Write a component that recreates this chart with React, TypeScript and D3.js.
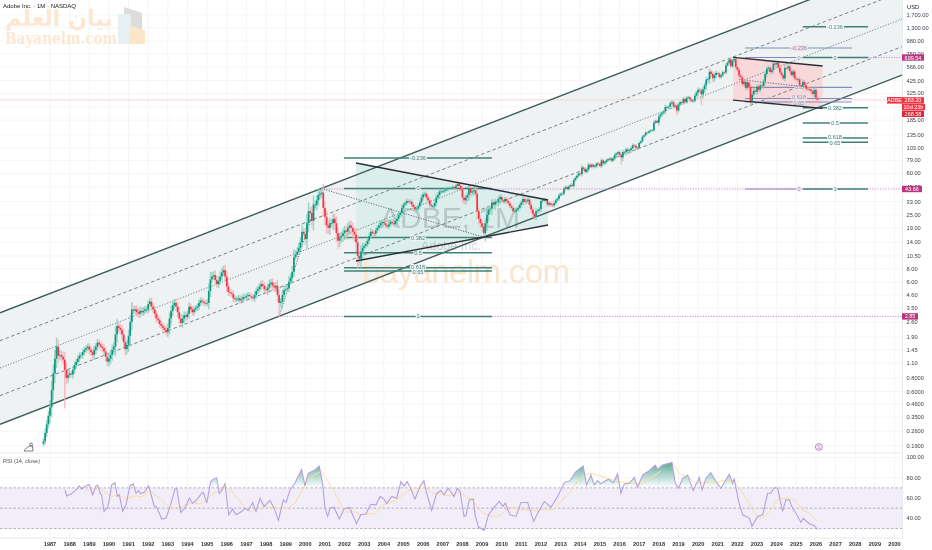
import React from "react";
import * as d3 from "d3";

const W = 932, H = 550;
const PLOT_R = 902;

// monthly closes, one row per calendar year, first row starts Sep 1986
const firstYear = 1986, firstMonth = 8;
const closes1986 = [0.21, 0.25, 0.30, 0.36];
const closes1987 = [0.43, 0.62, 0.88, 1.2, 1.55, 1.28, 1.3, 1.25, 1.18, 0.95, 0.8, 0.85];
const closes1988 = [0.88, 0.86, 0.95, 1.05, 1.12, 1.2, 1.28, 1.3, 1.38, 1.45, 1.5, 1.55];
const closes1989 = [1.45, 1.38, 1.3, 1.45, 1.55, 1.68, 1.62, 1.55, 1.5, 1.4, 1.25, 1.13];
const closes1990 = [1.2, 1.3, 1.45, 1.55, 2.0, 2.4, 2.3, 2.2, 2.0, 1.7, 1.47, 1.6];
const closes1991 = [1.95, 2.6, 3.4, 3.3, 3.4, 3.2, 3.1, 3.3, 3.2, 3.3, 3.4, 3.4];
const closes1992 = [3.8, 4.0, 3.6, 3.4, 3.1, 2.8, 2.7, 2.5, 2.4, 2.3, 2.2, 2.1];
const closes1993 = [2.3, 2.8, 3.3, 3.7, 3.9, 3.6, 3.2, 2.8, 2.55, 2.8, 3.0, 2.9];
const closes1994 = [3.1, 3.6, 3.4, 3.2, 3.4, 3.5, 3.6, 3.9, 4.1, 4.0, 3.9, 3.85];
const closes1995 = [3.9, 5.0, 6.4, 6.8, 7.0, 6.3, 5.8, 6.2, 6.8, 7.4, 7.8, 6.8];
const closes1996 = [5.5, 4.9, 4.8, 4.7, 4.3, 4.2, 4.2, 4.3, 4.1, 4.2, 4.4, 4.4];
const closes1997 = [4.5, 4.6, 4.5, 4.4, 4.3, 4.6, 5.0, 5.2, 5.5, 5.8, 5.6, 5.2];
const closes1998 = [5.1, 5.4, 5.8, 6.0, 5.6, 5.4, 5.6, 4.6, 3.9, 4.0, 4.6, 5.1];
const closes1999 = [5.2, 5.3, 6.1, 6.6, 7.5, 10.2, 10.8, 11.5, 12.5, 14, 17.5, 16.8];
const closes2000 = [15, 21, 27, 26, 22, 31, 31, 34, 38, 39, 40, 29];
const closes2001 = [24, 20, 19, 21, 21, 23, 21, 17, 14.5, 15.5, 16, 17];
const closes2002 = [18, 17.5, 19, 20, 19, 17.5, 16.5, 14, 10.5, 9.9, 11.5, 12.5];
const closes2003 = [13, 13.5, 14.5, 16, 17.5, 17, 16.8, 18, 19, 20, 21, 21.5];
const closes2004 = [21, 20, 19.5, 20.5, 21.5, 21, 20.5, 22, 23, 25, 26, 29];
const closes2005 = [31, 32, 33.5, 33, 33, 31, 29.5, 28, 28.5, 30, 32.5, 36];
const closes2006 = [38.5, 39, 36, 34, 31, 30, 30, 32, 36, 38, 41, 41];
const closes2007 = [41, 42, 43, 44, 44, 44, 45, 44, 46, 48, 46, 43];
const closes2008 = [36, 34, 36, 38, 44, 40, 41, 42, 39, 27, 23, 21];
const closes2009 = [19.5, 17, 21, 25, 28, 28.5, 32.5, 31, 33, 33, 35, 36.5];
const closes2010 = [34, 33, 35, 33.5, 32, 30, 29, 27, 27, 28, 29, 30.8];
const closes2011 = [32.5, 35, 33, 33.5, 34.5, 31, 28, 25.5, 24, 27, 27.5, 28.3];
const closes2012 = [33.5, 34, 34.3, 33.5, 31, 32, 31, 30.5, 32, 34, 35, 37.7];
const closes2013 = [39, 39, 43.5, 45, 43, 45.5, 47, 46, 52, 54.5, 57, 60];
const closes2014 = [59, 68, 66, 62, 65, 72, 69, 72, 69, 70, 74, 72.7];
const closes2015 = [70, 79, 74, 76, 79, 81, 82, 78.5, 82, 88.6, 91, 94];
const closes2016 = [89, 84, 94, 94, 99.5, 96, 98, 102, 108.5, 107.5, 103, 103];
const closes2017 = [114, 118, 130, 134, 142, 141, 146, 149, 149, 175, 182, 175];
const closes2018 = [199, 209, 216, 222, 244, 244, 245, 264, 270, 246, 251, 226];
const closes2019 = [257, 270, 266, 289, 271, 295, 299, 285, 276, 278, 310, 330];
const closes2020 = [351, 345, 318, 354, 386, 435, 439, 513, 490, 447, 478, 500];
const closes2021 = [495, 458, 475, 507, 505, 586, 621, 664, 576, 650, 669, 567];
const closes2022 = [534, 474, 455, 396, 416, 366, 410, 373, 275, 318, 345, 336];
const closes2023 = [375, 350, 385, 378, 418, 489, 546, 559, 510, 532, 611, 597];
const closes2024 = [618, 561, 505, 477, 445, 556, 552, 574, 518, 478, 516, 445];
const closes2025 = [436, 438, 384, 375, 415, 387, 358, 357, 353, 340, 320, 350];
const closes2026 = [293, 283.2];

// typical wick share per year, 1986..2026
const wickUpByYear = [.1, .16, .1, .11, .14, .13, .11, .12, .1, .14, .12, .11, .13, .14, .16, .15, .15, .09, .08, .08, .08, .06, .09, .09, .07, .07, .06, .05, .05, .05, .06, .04, .06, .05, .07, .05, .07, .06, .06, .06, .05];
const wickDownByYear = [.08, .14, .1, .12, .14, .12, .1, .12, .1, .1, .1, .1, .14, .08, .14, .17, .2, .08, .08, .07, .08, .06, .12, .14, .07, .08, .06, .04, .05, .05, .09, .03, .07, .05, .1, .05, .06, .07, .05, .08, .08];
const spikeMonths = [[1987, 9], [1998, 8], [2002, 9], [2009, 1], [2016, 1], [2018, 11], [2020, 2], [2022, 8]];
const spikeLows = [0.42, 2.93, 8.6, 15.7, 72, 205, 255, 258];

const priceTicks = [1700, 1300, 980, 750, 566, 425, 325, 245, 185, 135, 103, 79, 60, 45, 33, 25, 19, 14, 10.5, 8, 6, 4.6, 3.5, 2.6, 1.9, 1.45, 1.1, 0.8, 0.6, 0.46, 0.35, 0.26, 0.19];
const years = d3.range(1987, 2031);

// channel levels: price at the left edge and at the right edge of the pane
const channelT0 = 1984.454, channelT1 = 2030.376;
const channelLeft = [3.16, 1.755, 0.986, 0.55, 0.30];
const channelRight = [5003, 2778, 1561, 871, 478];
const channelDash = ["", "3.5 2.5", "1.2 1.6", "3.5 2.5", ""];

// Fibonacci sets
const fibLeftPrices = [83, 43.66, 15.5, 11.25, 8.2, 7.65, 2.93];
const fibLeftLabels = ["-0.236", "0", "0.382", "0.5", "0.618", "0.65", "1"];
const fibLeftSpan = [2001.97, 2009.5];
const fibTealPrices = [1326, 693, 240, 174, 127, 115.8, 43.2];
const fibTealLabels = ["-0.236", "0", "0.382", "0.5", "0.618", "0.65", "1"];
const fibTealSpan = [2025.33, 2028.65];
const fibPurplePrices = [846, 369, 291.5, 270.6];
const fibPurpleLabels = ["-0.236", "0.5", "0.618", "0.65"];
const fibPurpleSpan = [2022.39, 2027.83];
const fibPurpleShortPrices = [693, 43.2];
const fibPurpleShortLabels = ["0", "0"];
const fibPurpleShortSpan = [2022.39, 2025.28];

// wedges: [time, price]
const wedgeLeftTop = [[2002.58, 74.7], [2012.36, 34.2]];
const wedgeLeftBottom = [[2002.58, 9.44], [2012.36, 20.2]];
const wedgeRightTop = [[2021.78, 695], [2026.34, 579]];
const wedgeRightBottom = [[2021.78, 282], [2026.34, 237]];
const dottedLegs = [
  [[1998.66, 2.93], [2000.8, 43.66]],
  [[2000.8, 43.66], [2009.13, 15.5]],
  [[2022.1, 435], [2025.5, 372]],
];
// source-level dotted rays: [start time, price, end time]
const rayStarts = [2025.33, 2000.8, 1998.66];
const rayPrices = [693, 43.2, 2.93];
const rayEnds = [2030.38, 2030.38, 2030.38];

// RSI vertices
const rsiTimes = [1987.76, 1987.85, 1988.10, 1988.36, 1988.49, 1988.61, 1988.78, 1989.00, 1989.17, 1989.34, 1989.43, 1989.55, 1989.63, 1989.75, 1989.92, 1990.02, 1990.14, 1990.31, 1990.43, 1990.53, 1990.70, 1990.87, 1991.07, 1991.24, 1991.38, 1991.50, 1991.62, 1991.84, 1992.01, 1992.13, 1992.30, 1992.43, 1992.69, 1992.91, 1993.14, 1993.36, 1993.45, 1993.65, 1993.87, 1994.09, 1994.26, 1994.47, 1994.72, 1994.81, 1994.98, 1995.18, 1995.32, 1995.49, 1995.62, 1995.74, 1995.91, 1996.10, 1996.30, 1996.47, 1996.76, 1996.93, 1997.10, 1997.32, 1997.49, 1997.69, 1997.90, 1998.20, 1998.41, 1998.63, 1998.88, 1999.02, 1999.22, 1999.47, 1999.81, 1999.98, 2000.15, 2000.49, 2000.71, 2000.88, 2001.00, 2001.14, 2001.26, 2001.46, 2001.73, 2001.97, 2002.24, 2002.41, 2002.61, 2002.82, 2003.09, 2003.33, 2003.60, 2003.80, 2003.97, 2004.14, 2004.40, 2004.65, 2004.87, 2005.02, 2005.19, 2005.36, 2005.58, 2005.84, 2006.04, 2006.18, 2006.43, 2006.69, 2006.89, 2007.06, 2007.28, 2007.57, 2007.74, 2007.88, 2008.08, 2008.18, 2008.35, 2008.55, 2008.66, 2008.82, 2009.11, 2009.33, 2009.62, 2009.88, 2010.05, 2010.18, 2010.42, 2010.73, 2010.98, 2011.32, 2011.63, 2011.83, 2012.17, 2012.51, 2012.85, 2013.19, 2013.48, 2013.78, 2014.15, 2014.32, 2014.54, 2014.71, 2014.88, 2015.05, 2015.22, 2015.44, 2015.68, 2015.90, 2016.07, 2016.24, 2016.50, 2016.75, 2016.92, 2017.18, 2017.51, 2017.82, 2017.94, 2018.19, 2018.67, 2018.84, 2019.01, 2019.21, 2019.47, 2019.75, 2020.06, 2020.20, 2020.40, 2020.65, 2020.91, 2021.16, 2021.59, 2021.76, 2021.84, 2022.06, 2022.27, 2022.61, 2022.74, 2023.03, 2023.29, 2023.54, 2023.71, 2023.88, 2024.05, 2024.30, 2024.47, 2024.64, 2024.81, 2024.98, 2025.24, 2025.36, 2025.66, 2025.92, 2026.09];
const rsiValues = [68, 62.1, 64.1, 68.7, 71.9, 68.7, 71.3, 73.2, 63.1, 71.9, 72.6, 64.7, 63.1, 46.8, 50, 58.2, 72.9, 75.2, 61.5, 63.1, 46.8, 53.3, 71.9, 73.9, 64.7, 67.3, 64.1, 66.4, 71.9, 64.7, 52.3, 51, 39.3, 40.3, 53.3, 68.7, 69.6, 45.8, 50, 59.8, 54.9, 58.2, 64.7, 65.4, 54.9, 76.2, 78.5, 79.8, 64.7, 67.3, 73.9, 43.5, 49.1, 43.5, 46.8, 50, 47.8, 55.6, 46.8, 59.5, 51.7, 57.6, 50, 38, 58.2, 55.6, 68, 74.5, 88.2, 71.9, 84.3, 87.6, 91.5, 74.5, 50, 41.9, 50, 51, 39.3, 49.1, 51, 43.5, 34.7, 43.5, 44.5, 53.9, 53.3, 61.5, 59.8, 54.5, 61.5, 59.8, 76.2, 71.9, 76.2, 69.6, 58.9, 71.3, 77.1, 64.7, 47.8, 64.7, 67.3, 63.1, 69.6, 61.5, 69.6, 66.4, 41.9, 43, 58, 58.9, 41.9, 31.4, 28.2, 43.5, 51, 56.6, 51.7, 54.9, 43.5, 41.9, 55.6, 55.6, 37, 45.1, 56.6, 51, 61.5, 75.2, 77.1, 86, 91.5, 72.9, 82.7, 72.9, 77.1, 73.9, 76.2, 78.5, 75.2, 83.7, 64.7, 73.9, 74.5, 80.4, 70.6, 82.7, 86.9, 92.5, 88.2, 92.5, 95.1, 74.5, 69.6, 79.4, 82.7, 67.3, 80.4, 68, 79.4, 85, 76.2, 69.6, 83.7, 74.5, 79.4, 56.6, 43.5, 40.3, 32.2, 41.9, 43.5, 64.7, 64.7, 70.3, 69.6, 46.8, 58.2, 58.2, 50, 45.1, 36, 40, 34.7, 32.7, 28.8];

// RSI moving average vertices; the line breaks where the value is null
const rsiMaTimes = [1988.83, 1989.12, 1989.46, 1989.63, 1989.89, 1990.14, 1990.39, 1990.65, 1990.90, 1991.16, 1991.41, 1991.67, 1991.92, 1992.09, 1992.35, 1992.69, 1992.94, 1993.20, 1993.53, 1993.96, 1994.30, 1994.64, 1994.98, 1995.32, 1995.66, 1995.91, 1996.25, 1996.59, 1997.01, 1997.27, 1997.61, 1997.95, 1998.29, 1998.71, 1999.14, 1999.47, 1999.81, 2000.15, 2000.49, 2000.83, 2001.17, 2001.51, 2001.85, 2002.10, 2002.44, 2002.87, 2003.55, 2003.97, 2004.65, 2005.16, 2005.50, 2006.18, 2006.52, 2006.86, 2007.37, 2007.88, 2008.18, 2008.52, 2008.77, 2009.03, 2009.37, 2009.79, 2010.13, 2010.39, 2010.81, 2011.24, 2011.74, 2012.25, 2012.59, 2013.02, 2013.44, 2013.87, 2014.21, 2014.54, 2014.88, 2015.39, 2015.90, 2016.33, 2016.84, 2017.18, 2017.68, 2018.11, 2018.40, 2018.79, 2019.04, 2019.47, 2019.89, 2020.40, 2020.82, 2021.25, 2021.76, 2022.10, 2022.44, 2022.78, 2023.12, 2023.37, 2023.71, 2024.05, 2024.56, 2024.98, 2025.32, 2025.66, 2026.09];
const rsiMaValues = [67.3, 68.7, 70.6, 68, 64.7, 61.5, 63.1, 61.5, 58.9, 61.5, 62.1, 61.1, 64.7, 68, 63.1, 58.2, 53.3, 49.1, 51, 53.3, 55.6, 54, 58.2, 64.7, 68, 70.6, 66.4, 58.2, 48.4, 46.8, 50, 51.7, 50, 50, 50, 54.9, 66.4, 77.8, 83.7, 86, 76.2, 64.7, 51.7, 46.1, 46.8, 43.5, 44.5, 53.3, 58.2, 66.4, 69.6, 69.6, 64.7, 64.1, 62.1, 66.4, 60.8, 58.2, 50, 45.1, 42.9, 40.9, 46.8, 51, 49.7, 48.1, 47.4, 49.1, 47.8, 56.6, 64.7, 76.2, 82.7, 84.3, 82.7, 79.4, 76.2, 75.2, 73.9, 74.5, 81, 86.6, null, 92.5, 84.3, 81, 74.5, 75.5, 75.5, 77.1, 77.1, 69.6, 59.8, 48.4, 40.3, 40.9, 48.4, 58.2, 60.8, 56.6, 48.4, 45.1, 37];

const rsiTicks = [100, 80, 60, 40];
const rsiLevels = [70, 50, 30];

const FONT = "'Liberation Sans', Arial, sans-serif";
const INK = "#131722";
const UP = "#089981", DOWN = "#f23645";
const TEAL = "#3d8278", PURPLE = "#8f7fc4";
const RAY = "#c98bd3", MAG = "#b8397f";
const CHANNEL = "#3e5c5a";

const x = d3.scaleLinear().domain([1987, 2030]).range([50, 894.5]);
const y = d3.scaleLog().domain([0.19, 1700]).range([446, 15]);
const yR = d3.scaleLinear().domain([100, 30]).range([457.4, 528.5]);

type Bar = { t: number; o: number; h: number; l: number; c: number };

const allCloses = [closes1986, closes1987, closes1988, closes1989, closes1990, closes1991, closes1992, closes1993, closes1994, closes1995, closes1996, closes1997, closes1998, closes1999, closes2000, closes2001, closes2002, closes2003, closes2004, closes2005, closes2006, closes2007, closes2008, closes2009, closes2010, closes2011, closes2012, closes2013, closes2014, closes2015, closes2016, closes2017, closes2018, closes2019, closes2020, closes2021, closes2022, closes2023, closes2024, closes2025, closes2026];

function buildBars(): Bar[] {
  const bars: Bar[] = [];
  let prev = closes1986[0] * 0.95;
  allCloses.forEach((row, ri) => {
    const yr = firstYear + ri;
    row.forEach((c, i) => {
      const month = ri === 0 ? firstMonth + i : i;
      const o = prev;
      const ret = Math.abs(c - o) / o;
      const scale = 0.55 + Math.min(ret, 0.3) * 2.5;
      let h = Math.max(o, c) * (1 + wickUpByYear[ri] * scale);
      let l = Math.min(o, c) * (1 - wickDownByYear[ri] * scale);
      spikeMonths.forEach(([sy, sm], si) => {
        if (sy === yr && sm === month) l = spikeLows[si];
      });
      bars.push({ t: yr + month / 12, o, h, l, c });
      prev = c;
    });
  });
  return bars;
}

const bars = buildBars();

const fmtPrice = (v: number) =>
  v < 1 ? d3.format(".4f")(v) : d3.format(",.2f")(v);

const line2 = (pts: number[][]) =>
  d3.line<number[]>().x((d) => x(d[0])).y((d) => y(d[1]))(pts) as string;

const labelShift = (label: string) => (label === "0.618" ? 0.9 : label === "0.65" ? 3 : 2);

function FibSet({ prices, labels, span, color, halo, labelT, width = 1.5, fs = 5.6 }: any) {
  return (
    <g>
      {prices.map((p: number, i: number) => (
        <g key={i}>
          <line x1={x(span[0])} x2={x(span[1])} y1={y(p)} y2={y(p)} stroke={color} strokeWidth={width} />
          <text x={x(labelT)} y={y(p) + labelShift(labels[i])} fontSize={fs} fill={color} textAnchor="middle"
            stroke={halo} strokeWidth={2.5} style={{ paintOrder: "stroke" }}>{labels[i]}</text>
        </g>
      ))}
    </g>
  );
}

function PriceBox({ v, text, fill, h = 6.4, w = 22 }: any) {
  return (
    <g>
      <rect x={PLOT_R} y={v - h / 2} width={w} height={h} fill={fill} />
      <text x={PLOT_R + w / 2} y={v + 2} fontSize={5.5} fill="#fff" textAnchor="middle">{text}</text>
    </g>
  );
}

export default function App() {
  const rsiPts = rsiTimes.map((t, i) => [t, rsiValues[i]]);
  const rsiLine = d3.line<number[]>().x((d) => x(d[0])).y((d) => yR(d[1]))(rsiPts) as string;
  const rsiArea = d3.area<number[]>().x((d) => x(d[0])).y0(yR(70)).y1((d) => yR(d[1]))(rsiPts) as string;
  const maLine = d3.line<number>()
    .defined((d) => d !== null)
    .x((_, i) => x(rsiMaTimes[i]))
    .y((d) => yR(d))(rsiMaValues as number[]) as string;

  const polyOf = (top: number[][], bottom: number[][]) =>
    top.concat([...bottom].reverse()).map((d) => `${x(d[0])},${y(d[1])}`).join(" ");

  const channelPoly = [
    [channelT0, channelLeft[0]], [channelT1, channelRight[0]],
    [channelT1, channelRight[4]], [channelT0, channelLeft[4]],
  ].map((d) => `${x(d[0])},${y(d[1])}`).join(" ");

  const lastPrice = 283.2;
  return (
    <svg width={W} height={H} viewBox={`0 0 ${W} ${H}`} fontFamily={FONT}
      style={{ position: "fixed", left: 0, top: 0, background: "#fff", display: "block" }}>
      <defs>
        <clipPath id="plot"><rect x={0} y={0} width={PLOT_R} height={453} /></clipPath>
        <clipPath id="ob"><rect x={0} y={440} width={PLOT_R} height={yR(70) - 440} /></clipPath>
        <linearGradient id="obFill" gradientUnits="userSpaceOnUse" x1={0} x2={0} y1={yR(100)} y2={yR(70)}>
          <stop offset="0" stopColor="#006a55" stopOpacity={0.75} />
          <stop offset="1" stopColor="#0a8f70" stopOpacity={0} />
        </linearGradient>
        <filter id="soft" filterUnits="userSpaceOnUse" x={0} y={0} width={W} height={H}>
          <feGaussianBlur stdDeviation="0.4" />
        </filter>
      </defs>

      <g filter="url(#soft)">
      {/* grid */}
      <g stroke="#f4f5f6" strokeWidth={1}>
        {years.map((yr) => (
          <line key={yr} x1={x(yr)} x2={x(yr)} y1={0} y2={538} />
        ))}
        {priceTicks.map((p) => (
          <line key={p} x1={0} x2={PLOT_R} y1={y(p)} y2={y(p)} />
        ))}
        {rsiTicks.map((r) => (
          <line key={r} x1={0} x2={PLOT_R} y1={yR(r)} y2={yR(r)} />
        ))}
      </g>

      {/* logo and watermarks */}
      <g>
        <text x={5} y={26} fontSize={23} fontWeight={700} fill="#fce8d2" fontFamily="'DejaVu Sans', sans-serif" textLength={108} lengthAdjust="spacingAndGlyphs">بيان العلم</text>
        <text x={5} y={44} fontSize={16} fontWeight={700} fill="#fce8d2" fontFamily="'DejaVu Serif', serif" textLength={112} lengthAdjust="spacingAndGlyphs">Bayanelm.com</text>
        <polygon points="124,7 142,13 142,36 124,30" fill="#dcdcdc" />
        <rect x={118} y={14} width={13} height={30} fill="#e6f0f2" />
        <polygon points="129,25 140,29 145,30 145,44 129,44" fill="#fbe6c8" />
      </g>
      <text x={3} y={8} fontSize={6} fill={INK}>Adobe Inc. · 1M · NASDAQ</text>

      <g clipPath="url(#plot)">
        {/* channel */}
        <polygon points={channelPoly} fill="#eef2f2" />
        <line x1={0} x2={PLOT_R} y1={y(lastPrice)} y2={y(lastPrice)} stroke="#fbd3d8" strokeWidth={1} />

        {/* wedges */}
        <polygon points={polyOf(wedgeLeftTop, wedgeLeftBottom)} fill="#dceeec" />
        <polygon points={polyOf(wedgeRightTop, wedgeRightBottom)} fill="#f8d8da" />

        {/* watermark texts */}
        <text x={450} y={228} fontSize={30} fill="#2a2e39" fillOpacity={0.2} textAnchor="middle">ADBE, 1M</text>
        <text x={451} y={250} fontSize={12.5} fill="#2a2e39" fillOpacity={0.2} textAnchor="middle">Adobe Inc.</text>
        <text x={466} y={283} fontSize={33} fill="#fae6cf" textAnchor="middle" textLength={208}>bayanelm.com</text>

        {/* channel lines */}
        {channelLeft.map((p, i) => (
          <line key={i} x1={x(channelT0)} x2={x(channelT1)} y1={y(p)} y2={y(channelRight[i])}
            stroke={i === 0 || i === 4 ? CHANNEL : "#66777a"}
            strokeWidth={i === 0 || i === 4 ? 1.4 : 0.9}
            strokeDasharray={channelDash[i]} />
        ))}

        {/* dotted source rays */}
        {rayStarts.map((t, i) => (
          <line key={i} x1={x(t)} x2={x(rayEnds[i])} y1={y(rayPrices[i])} y2={y(rayPrices[i])}
            stroke={RAY} strokeWidth={1} strokeDasharray="1.2 1.4" />
        ))}

        {/* Fibonacci */}
        <FibSet prices={fibLeftPrices} labels={fibLeftLabels} span={fibLeftSpan} color={TEAL} halo="#eef2f2" labelT={2005.74} />
        <FibSet prices={fibPurplePrices} labels={fibPurpleLabels} span={fibPurpleSpan} color="#7f8fb8" halo="#f3e2e4" labelT={2025.14} width={1.1} />
        <FibSet prices={fibPurpleShortPrices} labels={fibPurpleShortLabels} span={fibPurpleShortSpan} color={PURPLE} halo="#f4f5f6" labelT={2025.14} width={1.1} />
        <FibSet prices={fibTealPrices} labels={fibTealLabels} span={fibTealSpan} color={TEAL} halo="#fbfcfc" labelT={2026.97} />

        {/* dotted swing legs */}
        {dottedLegs.map((leg, i) => (
          <path key={i} d={line2(leg)} fill="none" stroke="#55606a" strokeWidth={0.9} strokeDasharray="1.2 1.4" />
        ))}

        {/* candles */}
        <g>
          {bars.map((b, i) => {
            const up = b.c >= b.o;
            return (
              <line key={"w" + i} x1={x(b.t)} x2={x(b.t)} y1={y(b.h)} y2={y(b.l)}
                stroke={up ? "#7fcdbd" : "#f6aeb5"} strokeOpacity={0.8} strokeWidth={1.4} />
            );
          })}
          {bars.map((b, i) => {
            const up = b.c >= b.o;
            const top = y(Math.max(b.o, b.c));
            const bot = y(Math.min(b.o, b.c));
            return (
              <rect key={"b" + i} x={x(b.t) - 0.85} width={1.7} y={top} height={Math.max(bot - top, 0.8)}
                fill={up ? UP : DOWN} />
            );
          })}
        </g>

        {/* trend lines */}
        {[wedgeLeftTop, wedgeLeftBottom, wedgeRightTop, wedgeRightBottom].map((l, i) => (
          <path key={i} d={line2(l)} fill="none" stroke="#2b2f36" strokeWidth={1.4} />
        ))}
      </g>

      {/* event marks */}
      <g fill="none" stroke="#5a6068" strokeWidth={0.8}>
        <circle cx={31} cy={444.5} r={1.5} />
        <path d="M30,446 C27,447 25,449 24,451 L33,451 L32.5,446 Z" />
      </g>
      <circle cx={x(2026.15)} cy={447} r={3.4} fill="#fff" stroke="#a25bc5" strokeWidth={0.8} />
      <text x={x(2026.15)} y={449} fontSize={5} fill="#a25bc5" textAnchor="middle">S</text>

      {/* pane divider and axes */}
      <line x1={0} x2={PLOT_R} y1={453} y2={453} stroke="#e8eaee" strokeWidth={1} />
      <line x1={0} x2={PLOT_R} y1={538} y2={538} stroke="#e8eaee" strokeWidth={1} />
      <line x1={PLOT_R + 0.5} x2={PLOT_R + 0.5} y1={0} y2={538} stroke="#e8eaee" strokeWidth={1} />

      {/* RSI pane */}
      <rect x={0} width={PLOT_R} y={yR(70)} height={yR(30) - yR(70)} fill="#f1edf9" />
      {rsiLevels.map((l) => (
        <line key={l} x1={0} x2={PLOT_R} y1={yR(l)} y2={yR(l)} stroke="#a8a0b5" strokeWidth={0.8} strokeDasharray="2.5 2" />
      ))}
      <path d={rsiArea} fill="url(#obFill)" clipPath="url(#ob)" />
      <path d={maLine} fill="none" stroke="#fbdf9b" strokeWidth={1} />
      <path d={rsiLine} fill="none" stroke="#b7a1dc" strokeWidth={1.1} />
      <text x={3} y={463} fontSize={5.6} fill="#50535e">RSI (14, close)</text>

      {/* time axis */}
      {years.map((yr) => (
        <text key={yr} x={x(yr)} y={546} fontSize={5.6} fontWeight={700} fill="#2f333d" textAnchor="middle">{yr}</text>
      ))}

      {/* price axis */}
      <text x={907} y={9} fontSize={5.8} fill={INK}>USD</text>
      {priceTicks.map((p) => (
        <text key={p} x={906.5} y={y(p) + 2} fontSize={5.7} fill="#3f424d">{fmtPrice(p)}</text>
      ))}
      {rsiTicks.map((r) => (
        <text key={r} x={906.5} y={yR(r) + 2} fontSize={5.7} fill="#3f424d">{r.toFixed(2)}</text>
      ))}

      <PriceBox v={y(693)} text="699.54" fill={MAG} />
      <PriceBox v={189} text="43.66" fill={MAG} w={20} />
      <PriceBox v={y(2.93)} text="2.85" fill={MAG} w={16} />
      <rect x={887} y={97} width={15} height={6.6} fill={DOWN} />
      <text x={894.5} y={102.3} fontSize={5.4} fill="#fff" textAnchor="middle">ADBE</text>
      <PriceBox v={100.4} text="283.20" fill={DOWN} />
      <PriceBox v={107} text="10d 23h" fill={DOWN} w={23} />
      <PriceBox v={113.8} text="268.58" fill="#e0283a" />
      </g>
    </svg>
  );
}
